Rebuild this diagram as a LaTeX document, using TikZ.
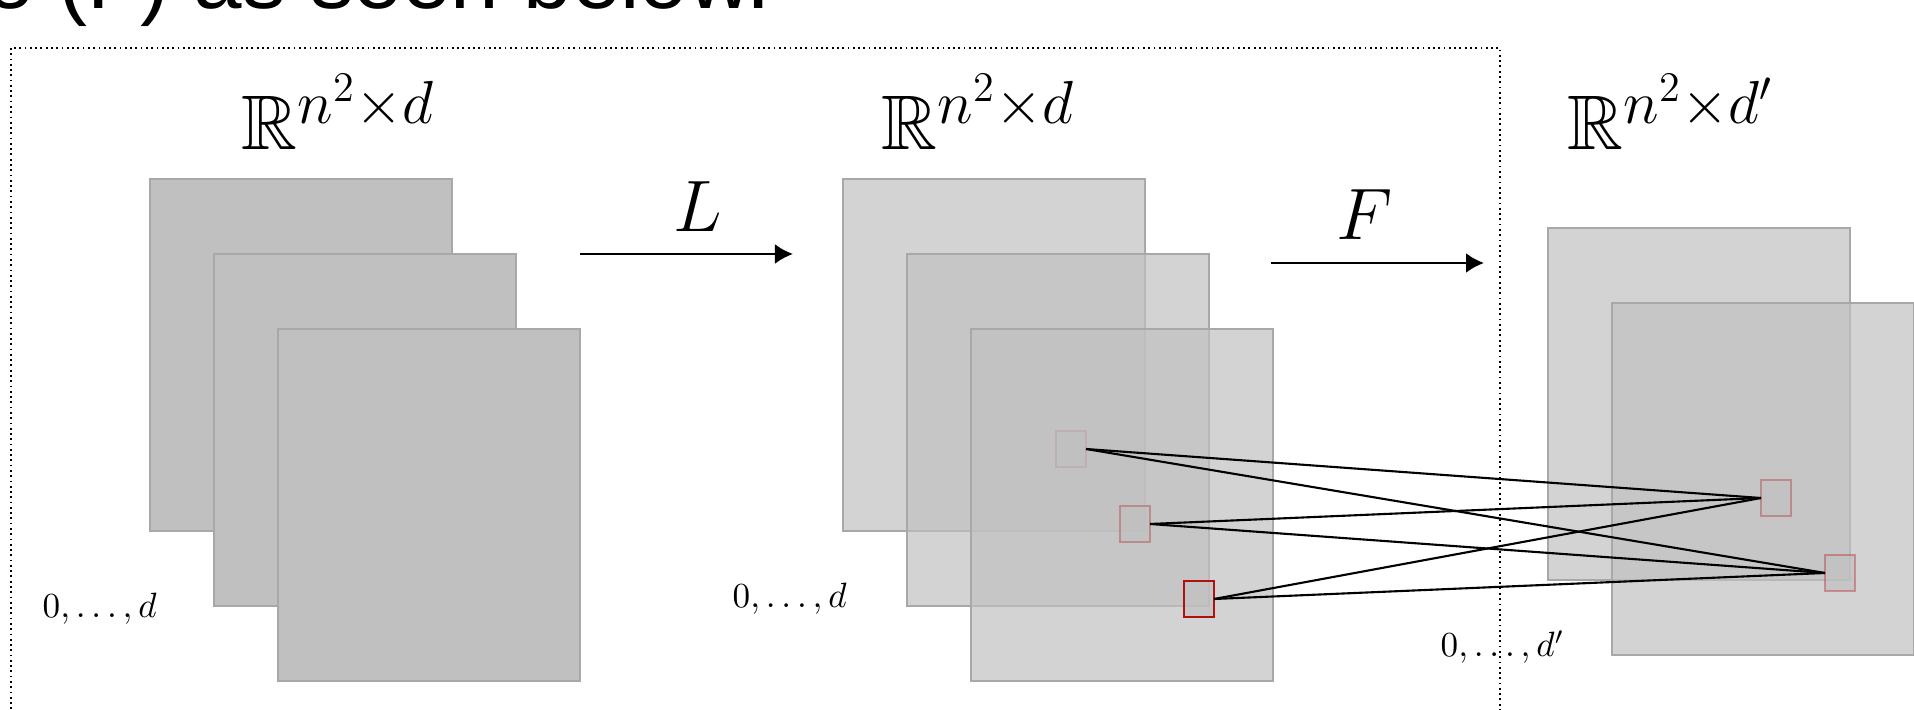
\documentclass[tikz,border=0pt]{standalone}
\usepackage{amsmath}
\usepackage{amssymb}
\usepackage{fontspec}
\newfontfamily\titlefont{Liberation Sans}
\usetikzlibrary{arrows.meta, positioning, calc}

\DeclareMathSizes{22}{22}{17}{12}

\definecolor{layergray}{RGB}{192,192,192}
\definecolor{layerline}{RGB}{168,168,168}
\definecolor{cellred}{RGB}{176,16,16}

\begin{document}
\begin{tikzpicture}[
  x=0.01cm, y=-0.01cm,
  layer/.style={rectangle, draw=layerline, line width=0.7pt, fill=layergray,
                fill opacity=0.7, minimum width=3.02cm, minimum height=3.52cm,
                inner sep=0pt, outer sep=0pt, anchor=north west},
  solidlayer/.style={layer, fill opacity=1},
  cell/.style={rectangle, draw=cellred, line width=0.8pt, fill=layergray,
               fill opacity=0.7, minimum width=0.3cm, minimum height=0.36cm,
               inner sep=0pt, outer sep=0pt},
  fadedcell/.style={cell, draw opacity=0.35},
  dimlabel/.style={font=\fontsize{22}{26}\selectfont, inner sep=0pt, anchor=base west},
  idxlabel/.style={font=\fontsize{10}{12}\selectfont, inner sep=0pt, anchor=base west},
  maplabel/.style={font=\fontsize{22}{26}\selectfont, inner sep=0pt, anchor=base},
  maparr/.style={-{Latex[length=1.8mm, width=2mm]}, line width=0.75pt},
  link/.style={line width=0.6pt, black},
  frame/.style={densely dotted, line width=0.5pt}
]
\useasboundingbox (0,0) rectangle (1914,710);
\clip (0,0) rectangle (1914,710);

% cut-off slide title
\node[font=\titlefont\fontsize{24.8}{30}\selectfont, inner sep=0pt, anchor=base west]
  (title) at (-15,9) {e (F) as seen below.};

\draw[frame] (11,48) rectangle (1500,740);

% input stack
\node[solidlayer] (a1) at (150,179) {};
\node[solidlayer] (a2) at ([shift={(64,75)}]a1.north west) {};
\node[solidlayer] (a3) at ([shift={(64,75)}]a2.north west) {};
\node[dimlabel] (dimA) at (241,150) {$\mathbb{R}^{n^2\times d}$};
\node[idxlabel] (idxA) at (42,618) {$0,\ldots,d$};

% after L
\node[layer] (b1) at (843,179) {};
\node[cell] (s1) at ([shift={(228,270)}]b1.north west) {};
\node[layer] (b2) at ([shift={(64,75)}]b1.north west) {};
\node[cell] (s2) at ([shift={(228,270)}]b2.north west) {};
\node[layer] (b3) at ([shift={(64,75)}]b2.north west) {};
\node[cell] (s3) at ([shift={(228,270)}]b3.north west) {};
\node[dimlabel] (dimB) at (881,150) {$\mathbb{R}^{n^2\times d}$};
\node[idxlabel] (idxB) at (732,608) {$0,\ldots,d$};

% after F
\node[layer] (c1) at (1548,228) {};
\node[cell] (t1) at ([shift={(228,270)}]c1.north west) {};
\node[layer] (c2) at ([shift={(64,75)}]c1.north west) {};
\node[fadedcell] (t2) at ([shift={(228,270)}]c2.north west) {};
\node[dimlabel] (dimC) at (1567,150) {$\mathbb{R}^{n^2\times d'}$};
\node[idxlabel] (idxC) at (1440,657) {$0,\ldots,d'$};

% maps
\coordinate (Lfrom) at (580,254);
\coordinate (Lto)   at (793,254);
\coordinate (Ffrom) at (1271,263);
\coordinate (Fto)   at (1484,263);
\draw[maparr] (Lfrom) -- (Lto);
\draw[maparr] (Ffrom) -- (Fto);
\node[maplabel] (Llab) at (698,232) {$L$};
\node[maplabel] (Flab) at (1365,240) {$F$};

% every cell of b feeds every cell of c
\foreach \s in {s1,s2,s3}
  \foreach \t in {t1,t2}
    \draw[link] (\s.east) -- (\t.west);
\end{tikzpicture}
\end{document}
